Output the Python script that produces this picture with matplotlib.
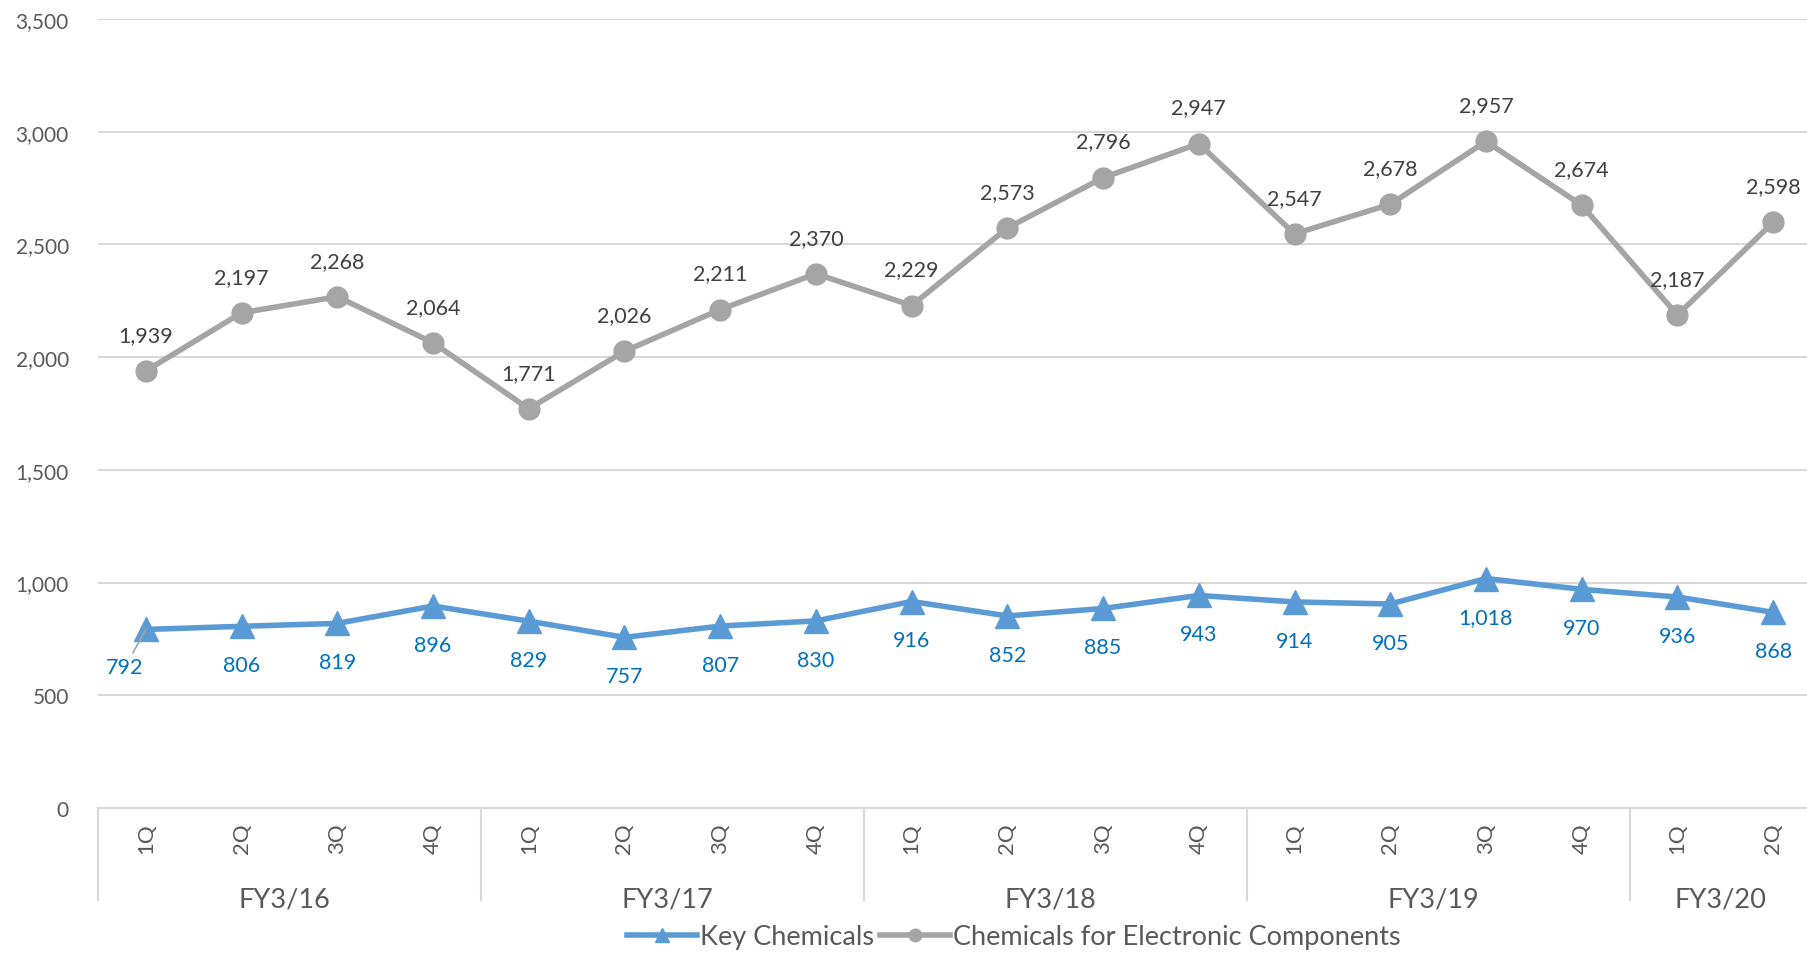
import matplotlib
matplotlib.use("Agg")
import matplotlib.pyplot as plt
from matplotlib.ticker import FuncFormatter

plt.rcParams['font.family'] = ['Lato', 'DejaVu Sans']

quarters = ['1Q', '2Q', '3Q', '4Q'] * 4 + ['1Q', '2Q']
years = ['FY3/16', 'FY3/17', 'FY3/18', 'FY3/19', 'FY3/20']
year_sizes = [4, 4, 4, 4, 2]
key_chem = [792, 806, 819, 896, 829, 757, 807, 830, 916, 852, 885, 943, 914, 905, 1018, 970, 936, 868]
elec_chem = [1939, 2197, 2268, 2064, 1771, 2026, 2211, 2370, 2229, 2573, 2796, 2947, 2547, 2678, 2957, 2674, 2187, 2598]

blue = '#5B9BD5'
gray = '#A5A5A5'
tick_col = '#595959'
grid_col = '#D9D9D9'

fig = plt.figure(figsize=(18.07, 9.54), dpi=100)
ax = fig.add_axes([98 / 1807, 145 / 954, 1723 / 1807, 789 / 954])

x = list(range(len(quarters)))
ax.plot(x, key_chem, color=blue, lw=4, marker='^', ms=17, label='Key Chemicals', zorder=3)
ax.plot(x, elec_chem, color=gray, lw=4, marker='o', ms=15,
        label='Chemicals for Electronic Components', zorder=3)

ax.set_ylim(0, 3500)
ax.set_xlim(-0.5, 17.5)
ax.set_yticks(range(0, 3501, 500))
ax.yaxis.set_major_formatter(FuncFormatter(lambda v, p: f'{int(v):,}'))
ax.grid(axis='y', color=grid_col, lw=1.5)
ax.set_axisbelow(True)
for s in ['top', 'right', 'left']:
    ax.spines[s].set_visible(False)
ax.spines['bottom'].set_color(grid_col)
ax.spines['bottom'].set_linewidth(1.5)
ax.tick_params(axis='y', length=0, pad=21, labelsize=15, labelcolor=tick_col)
ax.set_xticks(x)
ax.set_xticklabels(quarters, rotation=90)
ax.tick_params(axis='x', length=0, pad=10, labelsize=16, labelcolor=tick_col)

# data labels
for i, v in enumerate(elec_chem):
    ax.annotate(f'{v:,}', (i, v), xytext=(0, 26), textcoords='offset points',
                ha='center', va='center', fontsize=15.5, color='#404040')
for i, v in enumerate(key_chem):
    if i == 0:
        ax.annotate(f'{v:,}', (i, v), xytext=(-15, -27), textcoords='offset points',
                    ha='center', va='center', fontsize=15.5, color='#0070C0',
                    arrowprops=dict(arrowstyle='-', color='#A5A5A5', lw=1.2,
                                    shrinkA=1, shrinkB=0))
    else:
        ax.annotate(f'{v:,}', (i, v), xytext=(0, -28), textcoords='offset points',
                    ha='center', va='center', fontsize=15.5, color='#0070C0')

# group separators and year labels
sep_y = -(901 - 809) / 789
start = -0.5
for name, n in zip(years, year_sizes):
    ax.plot([start, start], [0, sep_y], transform=ax.get_xaxis_transform(),
            color=grid_col, lw=1.5, clip_on=False)
    ax.text(start + n / 2 - 0.05, -(900 - 809) / 789, name, transform=ax.get_xaxis_transform(),
            ha='center', va='center', fontsize=19.5, color=tick_col)
    start += n

leg = fig.legend(loc='center', bbox_to_anchor=(0.561, 0.017), ncol=2, frameon=False,
                 fontsize=19.5, handlelength=2.6, handletextpad=0.1, columnspacing=0.2,
                 markerscale=0.6)
for t in leg.get_texts():
    t.set_color(tick_col)

fig.savefig('out.png', dpi=100)
